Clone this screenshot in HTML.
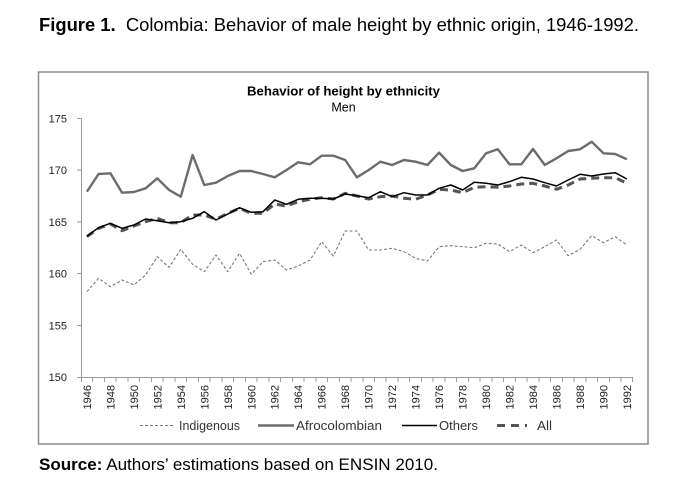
<!DOCTYPE html>
<html>
<head>
<meta charset="utf-8">
<style>
  html, body { margin:0; padding:0; background:#fff; }
  body { width:696px; height:499px; overflow:hidden; }
  svg { display:block; }
  text { font-family: "Liberation Sans", "DejaVu Sans", sans-serif; }
</style>
</head>
<body>
<svg width="696" height="499" viewBox="0 0 696 499" xmlns="http://www.w3.org/2000/svg">
  <!-- Figure title -->
  <text x="39" y="31" font-size="18" fill="#000" textLength="600" lengthAdjust="spacingAndGlyphs"><tspan font-weight="bold">Figure 1.</tspan><tspan xml:space="preserve">  Colombia: Behavior of male height by ethnic origin, 1946-1992.</tspan></text>

  <!-- Chart box -->
  <rect x="38.5" y="72" width="609.5" height="372" fill="#fff" stroke="#8a8a8a" stroke-width="1.5"/>

  <!-- Chart title -->
  <text x="343.5" y="95.5" font-size="12.5" font-weight="bold" text-anchor="middle" textLength="193" lengthAdjust="spacingAndGlyphs" fill="#000">Behavior of height by ethnicity</text>
  <text x="343.5" y="111.5" font-size="12.5" text-anchor="middle" fill="#000">Men</text>

  <!-- Axes -->
  <g stroke="#9a9a9a" stroke-width="1" fill="none" shape-rendering="crispEdges">
    <line x1="81.5" y1="118.5" x2="81.5" y2="377.5"/>
    <line x1="81" y1="377.5" x2="633" y2="377.5"/>
    <path d="M77 118.5H81.5M77 170.2H81.5M77 221.9H81.5M77 273.6H81.5M77 325.3H81.5M77 377.5H81.5"/>
    <path d="M81.5 377.5V382 M92.7 377.5V382 M104.5 377.5V382 M116.2 377.5V382 M128 377.5V382 M139.7 377.5V382 M151.4 377.5V382 M163.2 377.5V382 M174.9 377.5V382 M186.7 377.5V382 M198.4 377.5V382 M210.1 377.5V382 M221.9 377.5V382 M233.6 377.5V382 M245.4 377.5V382 M257.1 377.5V382 M268.8 377.5V382 M280.6 377.5V382 M292.3 377.5V382 M304.1 377.5V382 M315.8 377.5V382 M327.5 377.5V382 M339.3 377.5V382 M351 377.5V382 M362.8 377.5V382 M374.5 377.5V382 M386.2 377.5V382 M398 377.5V382 M409.7 377.5V382 M421.5 377.5V382 M433.2 377.5V382 M444.9 377.5V382 M456.7 377.5V382 M468.4 377.5V382 M480.2 377.5V382 M491.9 377.5V382 M503.6 377.5V382 M515.4 377.5V382 M527.1 377.5V382 M538.9 377.5V382 M550.6 377.5V382 M562.3 377.5V382 M574.1 377.5V382 M585.8 377.5V382 M597.6 377.5V382 M609.3 377.5V382 M621 377.5V382 M632.5 377.5V382"/>
  </g>

  <!-- Y labels -->
  <g font-size="11" fill="#222" text-anchor="end">
    <text x="67" y="122.5">175</text>
    <text x="67" y="174.2">170</text>
    <text x="67" y="225.9">165</text>
    <text x="67" y="277.6">160</text>
    <text x="67" y="329.3">155</text>
    <text x="67" y="381">150</text>
  </g>

  <!-- X labels -->
  <g font-size="11" fill="#222" text-anchor="end">
    <text transform="translate(90.9,385) rotate(-90)">1946</text>
    <text transform="translate(114.4,385) rotate(-90)">1948</text>
    <text transform="translate(137.9,385) rotate(-90)">1950</text>
    <text transform="translate(161.3,385) rotate(-90)">1952</text>
    <text transform="translate(184.8,385) rotate(-90)">1954</text>
    <text transform="translate(208.3,385) rotate(-90)">1956</text>
    <text transform="translate(231.8,385) rotate(-90)">1958</text>
    <text transform="translate(255.3,385) rotate(-90)">1960</text>
    <text transform="translate(278.7,385) rotate(-90)">1962</text>
    <text transform="translate(302.2,385) rotate(-90)">1964</text>
    <text transform="translate(325.7,385) rotate(-90)">1966</text>
    <text transform="translate(349.2,385) rotate(-90)">1968</text>
    <text transform="translate(372.7,385) rotate(-90)">1970</text>
    <text transform="translate(396.1,385) rotate(-90)">1972</text>
    <text transform="translate(419.6,385) rotate(-90)">1974</text>
    <text transform="translate(443.1,385) rotate(-90)">1976</text>
    <text transform="translate(466.6,385) rotate(-90)">1978</text>
    <text transform="translate(490.1,385) rotate(-90)">1980</text>
    <text transform="translate(513.5,385) rotate(-90)">1982</text>
    <text transform="translate(537,385) rotate(-90)">1984</text>
    <text transform="translate(560.5,385) rotate(-90)">1986</text>
    <text transform="translate(584,385) rotate(-90)">1988</text>
    <text transform="translate(607.5,385) rotate(-90)">1990</text>
    <text transform="translate(630.9,385) rotate(-90)">1992</text>
  </g>

  <!-- Series -->
  <g fill="none" stroke-linejoin="round">
    <!-- Indigenous -->
    <polyline stroke="#7a7a7a" stroke-width="1.1" stroke-dasharray="3,2" points="86.9,291.7 98.6,278.3 110.4,286.7 122.1,280.0 133.9,285.0 145.6,275.0 157.3,256.7 169.1,267.3 180.8,249.3 192.6,264.3 204.3,271.7 216.0,255.0 227.8,271.7 239.5,253.3 251.3,274.3 263.0,261.7 274.7,260.0 286.5,270.0 298.2,266.0 310.0,260.0 321.7,241.7 333.4,256.0 345.2,231.0 356.9,231.0 368.7,250.0 380.4,250.0 392.1,248.3 403.9,251.7 415.6,258.3 427.4,261.0 439.1,246.7 450.8,245.7 462.6,246.7 474.3,247.7 486.1,243.3 497.8,244.0 509.5,251.7 521.3,245.0 533.0,252.7 544.8,246.7 556.5,240.0 568.2,255.7 580.0,249.3 591.7,235.7 603.5,242.7 615.2,236.7 626.9,245.0"/>
    <!-- Afrocolombian -->
    <polyline stroke="#6c6c6c" stroke-width="2.4" points="86.9,191.7 98.6,174.0 110.4,173.3 122.1,192.7 133.9,192.0 145.6,188.3 157.3,178.3 169.1,190.0 180.8,196.7 192.6,155.0 204.3,185.0 216.0,182.7 227.8,176.0 239.5,171.0 251.3,171.0 263.0,174.0 274.7,177.3 286.5,170.0 298.2,162.3 310.0,164.3 321.7,155.7 333.4,155.7 345.2,160.0 356.9,177.3 368.7,170.0 380.4,161.7 392.1,165.0 403.9,160.0 415.6,161.7 427.4,165.0 439.1,152.7 450.8,165.0 462.6,171.0 474.3,168.3 486.1,153.3 497.8,149.3 509.5,164.3 521.3,164.3 533.0,149.0 544.8,165.0 556.5,158.3 568.2,151.0 580.0,149.3 591.7,141.7 603.5,153.3 615.2,154.0 626.9,159.3"/>
    <!-- All -->
    <polyline stroke="#555555" stroke-width="3" stroke-dasharray="8,5" points="86.9,236.7 98.6,228.3 110.4,224.0 122.1,230.7 133.9,226.0 145.6,221.7 157.3,218.3 169.1,222.7 180.8,222.7 192.6,215.0 204.3,215.0 216.0,219.3 227.8,213.3 239.5,208.3 251.3,213.3 263.0,213.3 274.7,204.0 286.5,206.0 298.2,201.7 310.0,199.3 321.7,197.7 333.4,199.0 345.2,193.3 356.9,196.0 368.7,199.0 380.4,196.7 392.1,196.0 403.9,198.3 415.6,199.3 427.4,195.0 439.1,189.3 450.8,190.0 462.6,192.7 474.3,187.3 486.1,186.7 497.8,187.3 509.5,186.0 521.3,184.0 533.0,183.3 544.8,186.0 556.5,189.3 568.2,185.0 580.0,179.0 591.7,178.3 603.5,177.7 615.2,177.7 626.9,183.3"/>
    <!-- Others -->
    <polyline stroke="#000" stroke-width="1.5" points="86.9,236.0 98.6,227.7 110.4,223.3 122.1,228.3 133.9,225.0 145.6,219.0 157.3,220.7 169.1,222.7 180.8,221.7 192.6,218.3 204.3,211.7 216.0,220.0 227.8,214.0 239.5,207.7 251.3,212.3 263.0,211.7 274.7,200.0 286.5,204.3 298.2,199.3 310.0,198.3 321.7,198.3 333.4,199.0 345.2,194.0 356.9,195.7 368.7,197.7 380.4,191.7 392.1,196.7 403.9,192.7 415.6,195.0 427.4,195.0 439.1,188.3 450.8,185.0 462.6,190.0 474.3,182.3 486.1,183.3 497.8,185.0 509.5,181.7 521.3,177.3 533.0,179.0 544.8,182.7 556.5,186.0 568.2,180.0 580.0,174.3 591.7,176.0 603.5,174.0 615.2,172.7 626.9,179.0"/>
  </g>

  <!-- Legend -->
  <g>
    <line x1="140" y1="425.5" x2="174" y2="425.5" stroke="#7a7a7a" stroke-width="1.1" stroke-dasharray="3,2"/>
    <text x="179" y="430" font-size="12.5" fill="#333" textLength="61" lengthAdjust="spacingAndGlyphs">Indigenous</text>
    <line x1="258" y1="425.5" x2="294" y2="425.5" stroke="#6c6c6c" stroke-width="2.4"/>
    <text x="296" y="430" font-size="12.5" fill="#333" textLength="86" lengthAdjust="spacingAndGlyphs">Afrocolombian</text>
    <line x1="402" y1="425.5" x2="437" y2="425.5" stroke="#000" stroke-width="1.5"/>
    <text x="439" y="430" font-size="12.5" fill="#333" textLength="39" lengthAdjust="spacingAndGlyphs">Others</text>
    <line x1="497" y1="425.5" x2="527" y2="425.5" stroke="#555" stroke-width="3" stroke-dasharray="8,6"/>
    <text x="537" y="430" font-size="12.5" fill="#333" textLength="15" lengthAdjust="spacingAndGlyphs">All</text>
  </g>

  <!-- Source -->
  <text x="39" y="470" font-size="17" fill="#000" textLength="399" lengthAdjust="spacingAndGlyphs"><tspan font-weight="bold">Source:</tspan><tspan xml:space="preserve"> Authors’ estimations based on ENSIN 2010.</tspan></text>
</svg>
</body>
</html>
